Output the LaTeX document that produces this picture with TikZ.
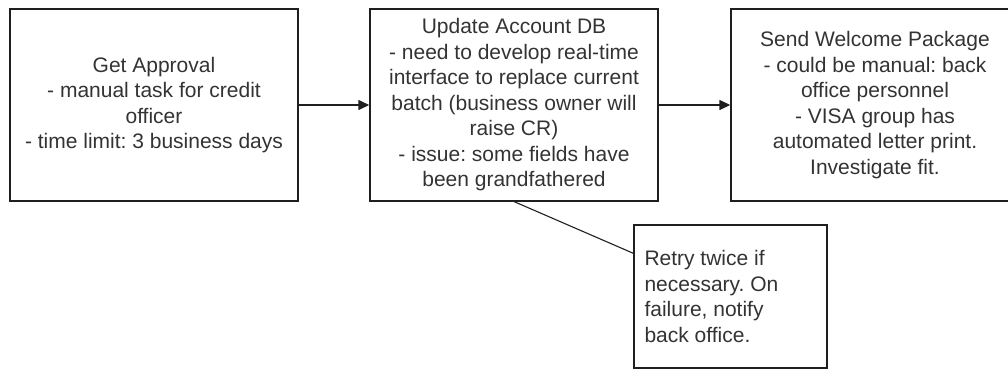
\documentclass[tikz,border=0pt]{standalone}
\usepackage{fontspec}
\setmainfont{Liberation Sans}
\usetikzlibrary{arrows.meta,calc}
\definecolor{txt}{gray}{0.2}
\definecolor{ln}{gray}{0.12}
\frenchspacing
\begin{document}
\begin{tikzpicture}[x=1pt,y=-1pt,
  taskbox/.style={draw=ln,line width=1.4pt,minimum width=288pt,minimum height=192pt,
    inner sep=0pt,align=center,text=txt,font=\fontsize{21}{25.5}\selectfont\frenchspacing},
  notebox/.style={draw=ln,line width=1.4pt,minimum width=193pt,minimum height=143pt,
    inner sep=0pt,text=txt,font=\fontsize{21}{25.5}\selectfont},
  flow/.style={draw=ln,line width=1.4pt,-{Triangle[length=11pt,width=10pt]}},
  link/.style={draw=ln,line width=1.1pt}]
\useasboundingbox (0,0) rectangle (1008,370);
\clip (0,0) rectangle (1008,370);
\node[taskbox] (b1) at (154,105) {Get Approval\\- manual task for credit\\officer\\- time limit: 3 business days};
\node[taskbox] (b2) at (514,105) {Update Account DB\\- need to develop real-time\\interface to replace current\\batch (business owner will\\raise CR)\\- issue: some fields have\\been grandfathered};
\node[taskbox] (b3) at (875,105) {Send Welcome Package\\- could be manual: back\\office personnel\\- VISA group has\\automated letter print.\\Investigate fit.};
\node[notebox] (n) at (730.5,296.5) {};
\node[anchor=west,align=left,text=txt,font=\fontsize{21}{25.5}\selectfont\frenchspacing,inner sep=0pt] (nt) at ($(n.west)+(11pt,0)$) {Retry twice if\\necessary. On\\failure, notify\\back office.};
\draw[flow] (b1.east) -- (b2.west);
\draw[flow] (b2.east) -- (b3.west);
\coordinate (lk1) at ($(b2.south west)+(145,0)$);
\coordinate (lk2) at ($(n.north west)+(0,29)$);
\draw[link] (lk1) -- (lk2);
\end{tikzpicture}
\end{document}
